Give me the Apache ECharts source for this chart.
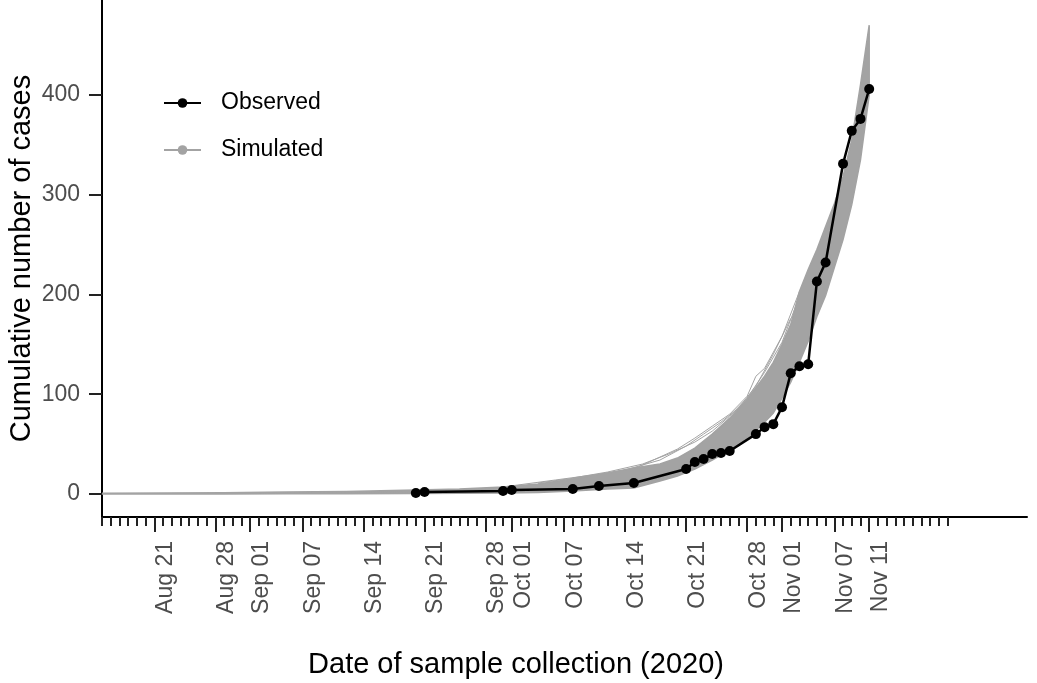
<!DOCTYPE html>
<html>
<head>
<meta charset="utf-8">
<title>Cumulative cases</title>
<script src="https://cdn.jsdelivr.net/npm/echarts@6/dist/echarts.min.js"></script>
<style>
  html, body { margin: 0; padding: 0; background: #fff; }
  #chart { width: 1037px; height: 683px; }
</style>
</head>
<body>
<div id="chart"></div>
<script>
// observed cumulative cases by date of sample collection
const observedDates = ['2020-09-20', '2020-09-21', '2020-09-30', '2020-10-01', '2020-10-08', '2020-10-11',
  '2020-10-15', '2020-10-21', '2020-10-22', '2020-10-23', '2020-10-24', '2020-10-25', '2020-10-26',
  '2020-10-29', '2020-10-30', '2020-10-31', '2020-11-01', '2020-11-02', '2020-11-03', '2020-11-04',
  '2020-11-05', '2020-11-06', '2020-11-08', '2020-11-09', '2020-11-10', '2020-11-11'];
const observedCases = [1, 2, 3, 4, 5, 8, 11, 25, 32, 35, 40, 41, 43, 60, 67, 70, 87, 121, 128, 130,
  213, 232, 331, 364, 376, 406];

// simulated trajectories: envelope of the bundle (days since 2020-08-01)
const bandDays = [14, 28, 35, 42, 50, 55, 60, 64, 68, 72, 75, 78, 80, 82, 84, 86, 88, 90, 91, 92, 93, 94, 95, 96, 97, 98, 99, 100, 101, 102];
const bandUpper = [0.6, 1.2, 2, 2.5, 4, 5, 7, 10, 15, 21, 26, 30, 36, 46, 60, 76, 95, 118, 132, 150, 170, 203, 225, 245, 268, 291, 318, 355, 410, 470];
const bandLower = [0, 0, 0.2, 0.3, 0.5, 0.7, 1, 1.5, 3, 5, 6, 13, 18, 25, 34, 44, 56, 72, 81, 96, 112, 132, 153, 178, 199, 227, 255, 290, 335, 400];

// a few stray simulated runs above the bundle
const simADays = [60, 66, 72, 75, 78, 80, 82, 84, 86, 88, 89, 90, 92, 94];
const simAVals = [7, 14, 21, 25, 37, 45, 56, 68, 80, 98, 118, 126, 158, 203];
const simBDays = [64, 70, 74, 78, 81, 83, 85, 87, 89, 91, 93];
const simBVals = [11, 18, 24, 34, 48, 60, 72, 86, 108, 140, 176];
const simCDays = [68, 72, 76, 79, 82, 84, 86, 88, 90, 92, 94];
const simCVals = [16, 22, 30, 40, 52, 63, 78, 96, 122, 152, 198];

// x axis breaks
const tickDates = ['2020-08-21', '2020-08-28', '2020-09-01', '2020-09-07', '2020-09-14', '2020-09-21',
  '2020-09-28', '2020-10-01', '2020-10-07', '2020-10-14', '2020-10-21', '2020-10-28', '2020-11-01',
  '2020-11-07', '2020-11-11'];
const minorFirstDay = 14;
const minorLastDay = 111;
const yTicks = [0, 100, 200, 300, 400];

const MONTHS = ['Jan', 'Feb', 'Mar', 'Apr', 'May', 'Jun', 'Jul', 'Aug', 'Sep', 'Oct', 'Nov', 'Dec'];
const ORIGIN = Date.UTC(2020, 7, 1);

function dayOf(s) {
  const [y, m, d] = s.split('-').map(Number);
  return (Date.UTC(y, m - 1, d) - ORIGIN) / 86400000;
}

function labelOf(day) {
  const dt = new Date(ORIGIN + day * 86400000);
  return MONTHS[dt.getUTCMonth()] + ' ' + String(dt.getUTCDate()).padStart(2, '0');
}

const pairs = (xs, ys) => xs.map((x, i) => [x, ys[i]]);

const majorDays = tickDates.map(dayOf);
const minorDays = [];
for (let d = minorFirstDay; d <= minorLastDay; d++) minorDays.push(d);

const FONT = '"Liberation Sans", Arial, Helvetica, sans-serif';
const GREY = '#a3a3a3';
const X_MIN = 14;
const X_MAX = 120.1;

const chart = echarts.init(document.getElementById('chart'));

const simLine = (data) => ({
  name: 'Simulated',
  type: 'line',
  data: data,
  symbol: 'circle',
  symbolSize: 7,
  showSymbol: false,
  lineStyle: { color: GREY, width: 1 },
  itemStyle: { color: GREY },
  z: 2,
  silent: true,
});

// bundle of simulated runs drawn as one filled envelope
function renderBand(params, api) {
  const upper = bandDays.map((d, i) => api.coord([d, bandUpper[i]]));
  const lower = bandDays.map((d, i) => api.coord([d, bandLower[i]])).reverse();
  return {
    type: 'polygon',
    shape: { points: upper.concat(lower) },
    style: { fill: GREY, stroke: GREY, lineWidth: 1.5 },
  };
}

chart.setOption({
  animation: false,
  textStyle: { fontFamily: FONT },
  title: {
    text: 'Date of sample collection (2020)',
    left: 511,
    top: 645,
    textAlign: 'center',
    textStyle: { fontFamily: FONT, fontSize: 29, fontWeight: 'normal', color: '#000' },
  },
  legend: {
    data: ['Observed', 'Simulated'],
    orient: 'vertical',
    left: 163,
    top: 91,
    padding: 0,
    itemWidth: 37,
    itemHeight: 12,
    itemGap: 23,
    textStyle: { fontFamily: FONT, fontSize: 23, color: '#000', lineHeight: 24, padding: [0, 0, 0, 15] },
  },
  grid: { left: 102, right: 10, top: 0, bottom: 166, containLabel: false, outerBoundsMode: 'none' },
  xAxis: [
    {
      type: 'value',
      min: X_MIN,
      max: X_MAX,
      position: 'bottom',
      offset: 0,
      splitLine: { show: false },
      axisLine: { show: true, onZero: false, lineStyle: { color: '#000', width: 2 } },
      axisTick: { show: true, customValues: minorDays, length: 9, lineStyle: { color: '#222', width: 2 } },
      axisLabel: { show: false },
    },
    {
      type: 'value',
      min: X_MIN,
      max: X_MAX,
      position: 'bottom',
      offset: 0,
      splitLine: { show: false },
      axisLine: { show: false, onZero: false },
      axisTick: { show: true, customValues: majorDays, length: 15, lineStyle: { color: '#222', width: 2 } },
      axisLabel: {
        customValues: majorDays,
        formatter: (v) => labelOf(v),
        rotate: 90,
        verticalAlign: 'top',
        margin: 24,
        hideOverlap: false,
        fontSize: 23,
        color: '#4d4d4d',
        fontFamily: FONT,
      },
    },
  ],
  yAxis: {
    type: 'value',
    min: -23.1,
    max: 495.2,
    name: 'Cumulative number of cases',
    nameLocation: 'middle',
    nameRotate: 90,
    nameGap: 66,
    nameMoveOverlap: false,
    nameTextStyle: { fontFamily: FONT, fontSize: 29, color: '#000' },
    splitLine: { show: false },
    axisLine: { show: true, onZero: false, lineStyle: { color: '#000', width: 2 } },
    axisTick: { show: true, customValues: yTicks, length: 13, lineStyle: { color: '#222', width: 2 } },
    axisLabel: { customValues: yTicks, margin: 22, fontSize: 23, color: '#4d4d4d', fontFamily: FONT },
  },
  series: [
    {
      name: 'band',
      type: 'custom',
      xAxisIndex: 0,
      yAxisIndex: 0,
      data: [[X_MIN, 0]],
      renderItem: renderBand,
      clip: true,
      z: 1,
      silent: true,
    },
    simLine(pairs(simADays, simAVals)),
    simLine(pairs(simBDays, simBVals)),
    simLine(pairs(simCDays, simCVals)),
    {
      name: 'Observed',
      type: 'line',
      data: pairs(observedDates.map(dayOf), observedCases),
      symbol: 'circle',
      symbolSize: 10,
      lineStyle: { color: '#000', width: 2.5 },
      itemStyle: { color: '#000' },
      z: 5,
    },
  ],
});
</script>
</body>
</html>
